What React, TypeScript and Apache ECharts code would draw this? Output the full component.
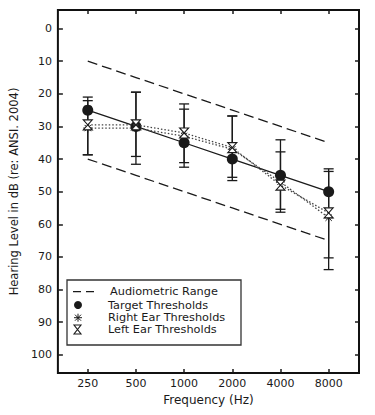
import React, { useEffect, useRef } from "react";
import * as echarts from "echarts";

const frequencies = ["250", "500", "1000", "2000", "4000", "8000"];
const yTicks = [0, 10, 20, 30, 40, 50, 60, 70, 80, 90, 100];
const targetThresholds = [25, 30, 35, 40, 45, 50];
const rangeUpper = [10, 15, 20, 25, 30, 35];
const rangeLower = [40, 45, 50, 55, 60, 65];
const rightEar = [30.5, 30.5, 33, 37, 47, 58];
const leftEar = [29.5, 29.5, 32, 36.5, 48, 56.5];
const rightEarBarTop = [21, 19.5, 23.1, 26.8, 34.1, 43];
const rightEarBarBottom = [38.7, 41.6, 41.1, 45.6, 55.4, 70.3];
const leftEarBarTop = [22.1, 19.5, 24.7, 26.8, 37.8, 43.8];
const leftEarBarBottom = [38.7, 39.2, 42.5, 46.6, 56.3, 73.9];
const legendLabels = ["Audiometric Range", "Target Thresholds", "Right Ear Thresholds", "Left Ear Thresholds"];

const FONT = "DejaVu Sans";
const INK = "#1a1a1a";
const HOURGLASS = "path://M0,0 L10,0 L0,12 L10,12 Z";
const ASTERISK = "path://M5,0 L5,10 M0,5 L10,5 M1.5,1.5 L8.5,8.5 M1.5,8.5 L8.5,1.5";

const pts = (arr: number[]) => arr.map((v, i) => [i, v]);

function errorBarSeries(tops: number[], bottoms: number[]) {
  return {
    type: "custom",
    z: 2,
    data: tops.map((t, i) => [i, t, bottoms[i]]),
    encode: { x: 0, y: [1, 2] },
    renderItem: (_p: any, api: any) => {
      const x = api.value(0);
      const a = api.coord([x, api.value(1)]);
      const b = api.coord([x, api.value(2)]);
      const w = 5;
      const st = { stroke: INK, lineWidth: 1.3 };
      return {
        type: "group",
        children: [
          { type: "line", shape: { x1: a[0], y1: a[1], x2: b[0], y2: b[1] }, style: st },
          { type: "line", shape: { x1: a[0] - w, y1: a[1], x2: a[0] + w, y2: a[1] }, style: st },
          { type: "line", shape: { x1: b[0] - w, y1: b[1], x2: b[0] + w, y2: b[1] }, style: st },
        ],
      };
    },
  };
}

export default function App() {
  const ref = useRef<HTMLDivElement>(null);
  useEffect(() => {
    if (!ref.current) return;
    const chart = echarts.init(ref.current, null, { renderer: "svg" });
    const xMin = -0.62, xMax = 5.63, yMin = -5.7, yMax = 105.6;
    const tickIdx = frequencies.map((_, i) => i);
    const lx = 67, ly = 280;
    const rows = [291.7, 305, 317.7, 329.5];
    const legendGraphics: any[] = [
      { type: "rect", shape: { x: lx, y: ly, width: 174, height: 65 }, style: { fill: "#fff", stroke: "#333", lineWidth: 1.3 }, z: 10 },
      { type: "line", shape: { x1: 73, y1: rows[0], x2: 96, y2: rows[0] }, style: { stroke: INK, lineWidth: 1.3, lineDash: [8, 5] }, z: 11 },
      { type: "circle", shape: { cx: 78, cy: rows[1], r: 4 }, style: { fill: INK }, z: 11 },
      { type: "line", shape: { x1: 78, y1: rows[2] - 4, x2: 78, y2: rows[2] + 4 }, style: { stroke: INK, lineWidth: 1 }, z: 11 },
      { type: "line", shape: { x1: 74, y1: rows[2], x2: 82, y2: rows[2] }, style: { stroke: INK, lineWidth: 1 }, z: 11 },
      { type: "line", shape: { x1: 75, y1: rows[2] - 3, x2: 81, y2: rows[2] + 3 }, style: { stroke: INK, lineWidth: 1 }, z: 11 },
      { type: "line", shape: { x1: 75, y1: rows[2] + 3, x2: 81, y2: rows[2] - 3 }, style: { stroke: INK, lineWidth: 1 }, z: 11 },
      { type: "polygon", shape: { points: [[74, rows[3] - 4.5], [81, rows[3] - 4.5], [74, rows[3] + 4.5], [81, rows[3] + 4.5]] }, style: { fill: "#fff", stroke: INK, lineWidth: 1.1 }, z: 11 },
      ...legendLabels.map((t, i) => ({
        type: "text",
        x: i === 0 ? 110 : 108,
        y: rows[i],
        z: 11,
        style: { text: t, fill: INK, font: `11.3px "${FONT}"`, lineHeight: 12, verticalAlign: "middle" },
      })),
    ];
    const axisLabelStyle = { color: INK, fontFamily: FONT, fontSize: 11 };
    const hiddenLine = { show: false, onZero: false };
    chart.setOption({
      animation: false,
      backgroundColor: "#fff",
      grid: { left: 53, right: 16, top: 10, bottom: 42, show: true, borderColor: "#111", borderWidth: 2, backgroundColor: "transparent" },
      xAxis: [
        {
          type: "value", min: xMin, max: xMax, position: "bottom",
          axisLine: hiddenLine, splitLine: { show: false },
          axisTick: { inside: true, length: 4, customValues: tickIdx, lineStyle: { color: INK, width: 1.5 } },
          axisLabel: { customValues: tickIdx, formatter: (v: number) => frequencies[Math.round(v)] ?? "", margin: 5, ...axisLabelStyle },
          name: "Frequency (Hz)", nameLocation: "middle", nameGap: 20,
          nameTextStyle: { color: INK, fontFamily: FONT, fontSize: 12 },
        },
        {
          type: "value", min: xMin, max: xMax, position: "top",
          axisLine: hiddenLine, splitLine: { show: false },
          axisTick: { inside: true, length: 4, customValues: tickIdx, lineStyle: { color: INK, width: 1.5 } },
          axisLabel: { show: false },
        },
      ],
      yAxis: [
        {
          type: "value", inverse: true, min: yMin, max: yMax, position: "left",
          axisLine: hiddenLine, splitLine: { show: false },
          axisTick: { inside: true, length: 5, customValues: yTicks, lineStyle: { color: INK, width: 1.5 } },
          axisLabel: { customValues: yTicks, margin: 6, ...axisLabelStyle },
          name: "Hearing Level in dB (re: ANSI. 2004)", nameLocation: "middle", nameGap: 31, nameRotate: 90,
          nameTextStyle: { color: INK, fontFamily: FONT, fontSize: 11.5 },
        },
        {
          type: "value", inverse: true, min: yMin, max: yMax, position: "right",
          axisLine: hiddenLine, splitLine: { show: false },
          axisTick: { inside: true, length: 4, customValues: yTicks, lineStyle: { color: INK, width: 1.5 } },
          axisLabel: { show: false },
        },
      ],
      series: [
        { type: "line", name: "Audiometric Range", data: pts(rangeUpper), symbol: "none", lineStyle: { color: INK, width: 1.3, type: [10, 5] }, z: 1 },
        { type: "line", name: "Audiometric Range Lower", data: pts(rangeLower), symbol: "none", lineStyle: { color: INK, width: 1.3, type: [10, 5] }, z: 1 },
        errorBarSeries(rightEarBarTop, rightEarBarBottom),
        errorBarSeries(leftEarBarTop, leftEarBarBottom),
        { type: "line", name: "Target Thresholds", data: pts(targetThresholds), symbol: "circle", symbolSize: 11, itemStyle: { color: INK }, lineStyle: { color: INK, width: 1.3 }, z: 3 },
        { type: "line", name: "Right Ear Thresholds", data: pts(rightEar), symbol: ASTERISK, symbolSize: 9, itemStyle: { color: "none", borderColor: INK, borderWidth: 1 }, lineStyle: { color: "#444", width: 1.3, type: [1.5, 2] }, z: 4 },
        { type: "line", name: "Left Ear Thresholds", data: pts(leftEar), symbol: HOURGLASS, symbolSize: [9, 10], itemStyle: { color: "#fff", borderColor: INK, borderWidth: 1.1 }, lineStyle: { color: "#444", width: 1.3, type: [1.5, 2] }, z: 5 },
      ],
      graphic: legendGraphics,
    });
    return () => chart.dispose();
  }, []);
  return <div ref={ref} style={{ position: "absolute", left: 0, top: 0, width: 375, height: 415 }} />;
}
